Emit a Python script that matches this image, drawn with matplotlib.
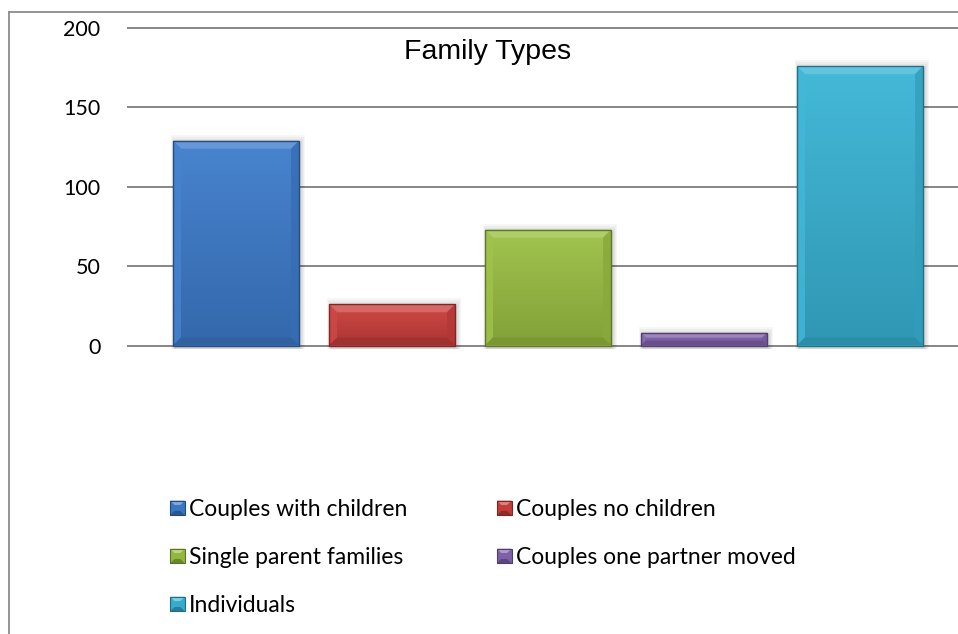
import numpy as np
import matplotlib
matplotlib.use("Agg")
import matplotlib.pyplot as plt
from matplotlib.patches import Polygon, Rectangle
from matplotlib.lines import Line2D
from matplotlib.legend_handler import HandlerBase
from matplotlib.colors import to_rgb

# ---- data ----
categories = ["Couples with children", "Couples no children", "Single parent families",
              "Couples one partner moved", "Individuals"]
values = [129, 26, 73, 8, 176]
colors = ["#3d7ccc", "#cc3f3c", "#9bc043", "#8465b0", "#39b4d6"]
yticks = [0, 50, 100, 150, 200]
title = "Family Types"

TEXT_FONT = ["Lato", "DejaVu Sans"]
TITLE_FONT = ["Liberation Sans", "DejaVu Sans"]


def mix(c, other, t):
    a = np.array(to_rgb(c))
    b = np.array(to_rgb(other))
    return tuple(a * (1 - t) + b * t)


def lighten(c, t):
    return mix(c, "white", t)


def darken(c, t):
    return mix(c, "black", t)


W, H = 958, 634
fig = plt.figure(figsize=(W / 100, H / 100), dpi=100)

# plot area: y=0 at 345.5 px, y=200 at 28 px from the top; small margin so gridlines are not clipped
ppu = (345.5 - 28) / 200.0
y_lo, y_hi = -2, 202
ax_bottom_px = 345.5 + (0 - y_lo) * ppu
ax_top_px = 28 - (y_hi - 200) * ppu
ax = fig.add_axes([127 / W, 1 - ax_bottom_px / H, 1 - 127 / W, (ax_bottom_px - ax_top_px) / H])

x = np.arange(len(values))
bar_w = 0.808
ax.set_xlim(-0.699, 4.628)
ax.set_ylim(y_lo, y_hi)

bars = ax.bar(x, values, width=bar_w, color=colors, edgecolor="none", zorder=3)

# pixel -> data conversion factors
ax_w_px = W - 127
sx = (4.628 + 0.699) / ax_w_px
sy = (y_hi - y_lo) / (ax_bottom_px - ax_top_px)

for rect, c in zip(bars, colors):
    x0, y0 = rect.get_x(), rect.get_y()
    w, h = rect.get_width(), rect.get_height()
    x1, y1 = x0 + w, y0 + h

    # soft drop shadow
    for k in range(5):
        grow = k + 1
        sh = Rectangle((x0 + (1 - grow) * sx + 2 * sx, y0 - grow * sy - 2 * sy),
                       w + (2 * grow - 2) * sx, h + (2 * grow - 2) * sy + grow * sy,
                       facecolor="black", alpha=0.035, edgecolor="none", zorder=2.5)
        ax.add_patch(sh)

    # vertical gradient on the face
    n = 64
    t = np.linspace(0, 1, n)[:, None, None]
    top_c = np.array(lighten(c, 0.06))
    bot_c = np.array(darken(c, 0.16))
    img = top_c * (1 - t) + bot_c * t
    im = ax.imshow(img, extent=[x0, x1, y0, y1], origin="upper", aspect="auto",
                   interpolation="bilinear", zorder=3.1)
    im.set_clip_path(rect)

    # bevel facets
    bpx = 8.0
    by = min(bpx * sy, h * 0.38)
    bx = (by / sy) * sx
    facets = [
        ([(x0, y1), (x1, y1), (x1 - bx, y1 - by), (x0 + bx, y1 - by)], lighten(c, 0.22), 0.95),
        ([(x0, y0), (x0, y1), (x0 + bx, y1 - by), (x0 + bx, y0 + by)], lighten(c, 0.05), 0.8),
        ([(x1, y0), (x1, y1), (x1 - bx, y1 - by), (x1 - bx, y0 + by)], darken(c, 0.12), 0.8),
        ([(x0, y0), (x1, y0), (x1 - bx, y0 + by), (x0 + bx, y0 + by)], darken(c, 0.22), 0.85),
    ]
    for pts, fc, a in facets:
        ax.add_patch(Polygon(pts, closed=True, facecolor=fc, edgecolor="none", alpha=a, zorder=3.2))

    ax.add_patch(Rectangle((x0, y0), w, h, fill=False, edgecolor=darken(c, 0.38),
                           linewidth=1.0, zorder=3.3))

# axes styling
ax.set_yticks(yticks)
ax.set_xticks([])
ax.yaxis.grid(True, color="#868686", linewidth=1.4)
ax.set_axisbelow(True)
for s in ax.spines.values():
    s.set_visible(False)
ax.tick_params(axis="y", length=0, pad=19, labelsize=15.5, labelcolor="black")
for lab in ax.get_yticklabels():
    lab.set_family(TEXT_FONT)

# title
fig.text(488 / W, 1 - 52 / H, title, ha="center", va="center", fontsize=20.5,
         family=TITLE_FONT, color="black")

# chart border (left and top edges)
border_c = "#8c8c8c"
fig.add_artist(Line2D([8.5 / W, 8.5 / W], [0, 1 - 12 / H], transform=fig.transFigure,
                      color=border_c, linewidth=1.3))
fig.add_artist(Line2D([8.5 / W, 1], [1 - 12 / H, 1 - 12 / H], transform=fig.transFigure,
                      color=border_c, linewidth=1.3))


class BevelSquareHandler(HandlerBase):
    def create_artists(self, legend, orig_handle, xdescent, ydescent, width, height,
                       fontsize, trans):
        c = orig_handle.get_facecolor()
        s = min(width, height)
        xa = -xdescent + (width - s) / 2
        ya = -ydescent + (height - s) / 2
        b = s * 0.3
        arts = [
            Rectangle((xa, ya), s, s, facecolor=darken(c, 0.05), edgecolor="none"),
            Polygon([(xa, ya + s), (xa + s, ya + s), (xa + s - b, ya + s - b), (xa + b, ya + s - b)],
                    closed=True, facecolor=lighten(c, 0.35), edgecolor="none"),
            Polygon([(xa, ya), (xa + s, ya), (xa + s - b, ya + b), (xa + b, ya + b)],
                    closed=True, facecolor=darken(c, 0.3), edgecolor="none"),
            Rectangle((xa, ya), s, s, fill=False, edgecolor=darken(c, 0.4), linewidth=0.8),
        ]
        for a in arts:
            a.set_transform(trans)
        return arts


order = [0, 2, 4, 1, 3]
handles = [bars[i] for i in order]
labels = [categories[i] for i in order]
leg_fs = 16.5
leg = fig.legend(handles, labels, ncol=2, loc="upper left",
                 bbox_to_anchor=(170 / W, 1 - 499 / H), frameon=False,
                 prop={"family": TEXT_FONT, "size": leg_fs},
                 handler_map={type(bars[0]): BevelSquareHandler()},
                 handlelength=0.65, handleheight=0.65, handletextpad=0.18,
                 labelspacing=1.18, columnspacing=3.9, borderaxespad=0, borderpad=0)

fig.savefig("out.png", dpi=100, facecolor="white")
